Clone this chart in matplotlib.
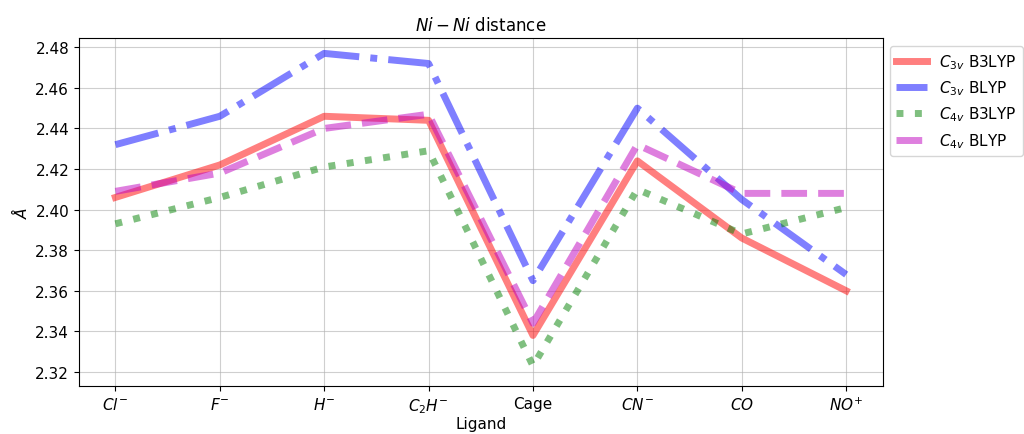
import matplotlib
matplotlib.use('Agg')
import matplotlib.pyplot as plt

ligands = ['$Cl^{-}$', '$F^{-}$', '$H^{-}$', '$C_2H^{-}$', 'Cage', '$CN^{-}$', '$CO$', '$NO^{+}$']

c3v_b3lyp = [2.406, 2.422, 2.446, 2.444, 2.338, 2.424, 2.386, 2.360]
c3v_blyp = [2.432, 2.446, 2.477, 2.472, 2.365, 2.450, 2.405, 2.368]
c4v_b3lyp = [2.393, 2.406, 2.421, 2.429, 2.323, 2.410, 2.388, 2.401]
c4v_blyp = [2.409, 2.418, 2.440, 2.447, 2.344, 2.432, 2.408, 2.408]

fig = plt.figure(figsize=(10.24, 4.35), dpi=100)
ax = fig.add_axes([0.077, 0.110, 0.785, 0.800])

x = range(len(ligands))
ax.plot(x, c3v_b3lyp, 'r-', lw=5, alpha=0.5, label='$C_{3v}$ B3LYP')
ax.plot(x, c3v_blyp, 'b-.', lw=5, alpha=0.5, label='$C_{3v}$ BLYP')
ax.plot(x, c4v_b3lyp, 'g:', lw=5, alpha=0.5, label='$C_{4v}$ B3LYP')
ax.plot(x, c4v_blyp, 'm--', lw=5, alpha=0.5, label='$C_{4v}$ BLYP')

ax.set_xticks(list(x))
ax.set_xticklabels(ligands, fontsize=11)
ax.set_ylim(2.313, 2.4845)
ax.set_title('$Ni-Ni$ distance', fontsize=12)
ax.set_xlabel('Ligand', fontsize=11, labelpad=1)
ax.set_ylabel(r'$\AA$', fontsize=11)
ax.tick_params(axis='y', labelsize=11)
ax.grid(True, alpha=0.6)
ax.legend(loc='upper left', bbox_to_anchor=(1.0, 1.0), fontsize=11)

plt.savefig('out.png')
